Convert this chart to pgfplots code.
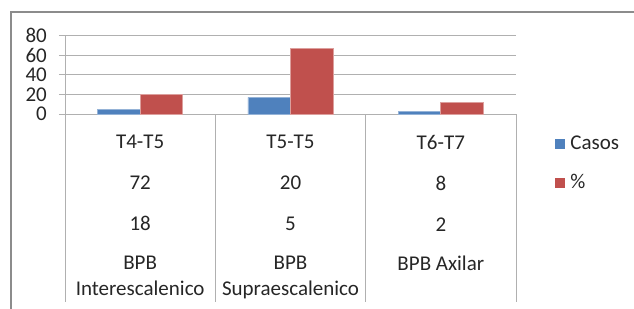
\documentclass[border=0pt]{standalone}
\usepackage{fontspec}
\setmainfont{Carlito}
\usepackage{pgfplots}
\pgfplotsset{compat=1.18}
\definecolor{cblue}{HTML}{4F81BD}
\definecolor{cred}{HTML}{C0504D}
\definecolor{gridc}{HTML}{B0B0B0}
\definecolor{framec}{HTML}{8C8C8C}
\definecolor{txt}{HTML}{262626}
\begin{document}
\begin{tikzpicture}
\path[use as bounding box] (0,0) rectangle (634bp,309bp);
\draw[framec, line width=1.5bp] (11bp,-2bp) -- (11bp,297bp) -- (640bp,297bp);
\begin{axis}[
  at={(65bp,195bp)}, anchor=south west,
  scale only axis, width=451bp, height=78.3bp,
  xmin=-0.5, xmax=2.5, ymin=0, ymax=80,
  ybar=0pt, bar width=42.6bp,
  axis lines*=left,
  axis line style={gridc, line width=1bp},
  ymajorgrids, grid style={gridc, line width=1bp},
  ytick={0,20,40,60,80},
  ytick align=outside, major tick length=6bp,
  ytick style={gridc, line width=1bp},
  xtick={0,1,2}, xtick style={draw=none},
  xticklabels={{T4-T5\\[15bp]72\\[15bp]18\\[13bp]BPB\\Interescalenico},
               {T5-T5\\[15bp]20\\[15bp]5\\[13bp]BPB\\Supraescalenico},
               {T6-T7\\[15bp]8\\[15bp]2\\[13bp]BPB Axilar}},
  xticklabel style={anchor=north, inner sep=0pt, yshift=-14.8bp, align=center,
    font=\fontsize{21bp}{26bp}\selectfont, text=txt},
  yticklabel style={anchor=east, inner sep=0pt, xshift=-12bp,
    font=\fontsize{21bp}{26bp}\selectfont, text=txt},
  /pgf/number format/assume math mode=true,
  clip=false,
  legend style={draw=none, fill=none, at={(1.0870,-0.272)}, anchor=north west,
    inner sep=0pt, row sep=21.3bp,
    nodes={inner sep=0pt, text height=14bp, text depth=4bp, text=txt},
    font=\fontsize{21bp}{26bp}\selectfont,
    /tikz/every odd column/.style={column sep=5bp}},
  legend cell align=left,
  legend image code/.code={\path[#1, draw=none] (0bp,-4.5bp) rectangle (10bp,5.5bp);},
]
\addplot[fill=cblue, draw=cblue!60!white, line width=0.7bp] coordinates {(0,5) (1,17) (2,2.3)};
\addplot[fill=cred, draw=cred!55!white, line width=0.7bp] coordinates {(0,20) (1,67) (2,11.8)};
\legend{Casos,\%}
\draw[gridc, line width=1bp] (axis cs:-0.5,0) -- ([yshift=-188bp]axis cs:-0.5,0);
\draw[gridc, line width=1bp] (axis cs:0.5,0) -- ([yshift=-188bp]axis cs:0.5,0);
\draw[gridc, line width=1bp] (axis cs:1.5,0) -- ([yshift=-188bp]axis cs:1.5,0);
\draw[gridc, line width=1bp] (axis cs:2.5,0) -- ([yshift=-188bp]axis cs:2.5,0);
\end{axis}
\end{tikzpicture}
\end{document}
